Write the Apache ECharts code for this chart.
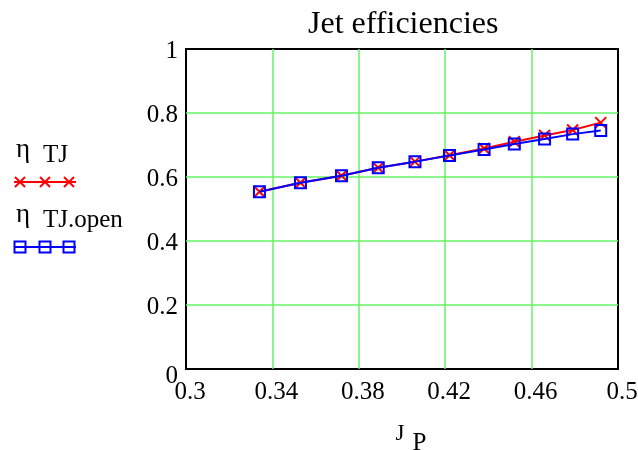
<!DOCTYPE html>
<html>
<head>
<meta charset="utf-8">
<script src="https://cdn.jsdelivr.net/npm/echarts@6/dist/echarts.min.js"></script>
<style>
  html, body { margin: 0; padding: 0; background: #fff; }
  #chart { width: 638px; height: 450px; }
</style>
</head>
<body>
<div id="chart"></div>
<script>
// Jet efficiencies versus J_P
const jP = [0.334, 0.353, 0.372, 0.389, 0.406, 0.422, 0.438, 0.452, 0.466, 0.479, 0.492];
const etaTJ = [0.554, 0.582, 0.604, 0.629, 0.648, 0.668, 0.689, 0.710, 0.730, 0.747, 0.770];
const etaTJopen = [0.554, 0.582, 0.604, 0.629, 0.648, 0.667, 0.686, 0.703, 0.719, 0.734, 0.745];

const xTicks = { min: 0.3, max: 0.5, step: 0.04 };
const yTicks = { min: 0, max: 1, step: 0.2 };

const FONT = '"Liberation Serif", "DejaVu Serif", serif';
const RED = '#ff0000';
const BLUE = '#0000ff';
const GRID_GREEN = '#66f266';

const crossPath = 'path://M0,0L10,10M10,0L0,10';

function fmt(v) { return String(+v.toFixed(2)); }
// the zero on the value axis sits a little lower, beside the x-axis labels
function fmtY(v) { return v === 0 ? '{z|0}' : fmt(v); }

const chart = echarts.init(document.getElementById('chart'));

// legend entries drawn as graphics: label, line and three markers
function label(x, y, text, size) {
  return { type: 'text', x: x, y: y, style: { text: text, font: (size || 25) + 'px ' + FONT, fill: '#000', verticalAlign: 'top' } };
}
const legendGraphics = [
  label(16, 136, 'η', 27),
  label(43, 143, 'TJ'),
  { type: 'line', shape: { x1: 14, y1: 182, x2: 76, y2: 182 }, style: { stroke: RED, lineWidth: 2 } },
  label(16, 201, 'η', 27),
  label(43, 208, 'TJ.open'),
  { type: 'line', shape: { x1: 14, y1: 247, x2: 76, y2: 247 }, style: { stroke: BLUE, lineWidth: 2 } }
];
[20, 45, 69].forEach(function (cx) {
  legendGraphics.push({ type: 'line', shape: { x1: cx - 5, y1: 177, x2: cx + 5, y2: 187 }, style: { stroke: RED, lineWidth: 2 } });
  legendGraphics.push({ type: 'line', shape: { x1: cx + 5, y1: 177, x2: cx - 5, y2: 187 }, style: { stroke: RED, lineWidth: 2 } });
  legendGraphics.push({
    type: 'rect',
    shape: { x: cx - 5.5, y: 241.5, width: 11, height: 11 },
    style: { stroke: BLUE, lineWidth: 2, fill: 'none' }
  });
});

const option = {
  backgroundColor: '#fff',
  animation: false,
  textStyle: { fontFamily: FONT },
  title: {
    text: 'Jet efficiencies',
    left: 303,
    top: 4,
    textStyle: { fontFamily: FONT, fontSize: 32, fontWeight: 'normal', color: '#000' }
  },
  grid: {
    left: 186, right: 20, top: 49, bottom: 81,
    outerBoundsMode: 'none',
    containLabel: false,
    show: true, borderColor: '#000', borderWidth: 2,
    backgroundColor: 'transparent'
  },
  xAxis: {
    type: 'value',
    min: xTicks.min, max: xTicks.max, interval: xTicks.step,
    axisLine: { show: false },
    axisTick: { show: false },
    splitLine: { show: true, showMinLine: false, showMaxLine: false, lineStyle: { color: GRID_GREEN, width: 1.5 } },
    axisLabel: {
      formatter: fmt, color: '#000', fontFamily: FONT, fontSize: 25,
      margin: 11, padding: [0, 0, 0, 8], showMaxLabel: true, showMinLabel: true
    },
    name: '{j|J}{p|P}',
    nameLocation: 'middle',
    nameGap: 53,
    nameTextStyle: {
      padding: [0, 0, 0, 18],
      rich: {
        j: { fontFamily: FONT, fontSize: 23, color: '#000', verticalAlign: 'top', padding: [0, 8, 0, 0] },
        p: { fontFamily: FONT, fontSize: 25, color: '#000', padding: [9, 0, 0, 0] }
      }
    }
  },
  yAxis: {
    type: 'value',
    min: yTicks.min, max: yTicks.max, interval: yTicks.step,
    axisLine: { show: false },
    axisTick: { show: false },
    splitLine: { show: true, showMinLine: false, showMaxLine: false, lineStyle: { color: GRID_GREEN, width: 1.5 } },
    axisLabel: {
      formatter: fmtY, color: '#000', fontFamily: FONT, fontSize: 25,
      margin: 8, padding: [4, 0, 0, 0],
      rich: { z: { fontFamily: FONT, fontSize: 25, color: '#000', padding: [10, 0, 0, 0] } }
    }
  },
  series: [
    {
      name: 'ηTJ',
      type: 'line',
      data: jP.map(function (x, i) { return [x, etaTJ[i]]; }),
      lineStyle: { color: RED, width: 2 },
      symbol: crossPath,
      symbolSize: 11,
      itemStyle: { color: 'none', borderColor: RED, borderWidth: 2 },
      z: 2
    },
    {
      name: 'ηTJ.open',
      type: 'line',
      data: jP.map(function (x, i) { return [x, etaTJopen[i]]; }),
      lineStyle: { color: BLUE, width: 2 },
      symbol: 'rect',
      symbolSize: 11,
      itemStyle: { color: 'none', borderColor: BLUE, borderWidth: 2 },
      z: 3
    }
  ],
  graphic: legendGraphics
};

chart.setOption(option);
</script>
</body>
</html>
